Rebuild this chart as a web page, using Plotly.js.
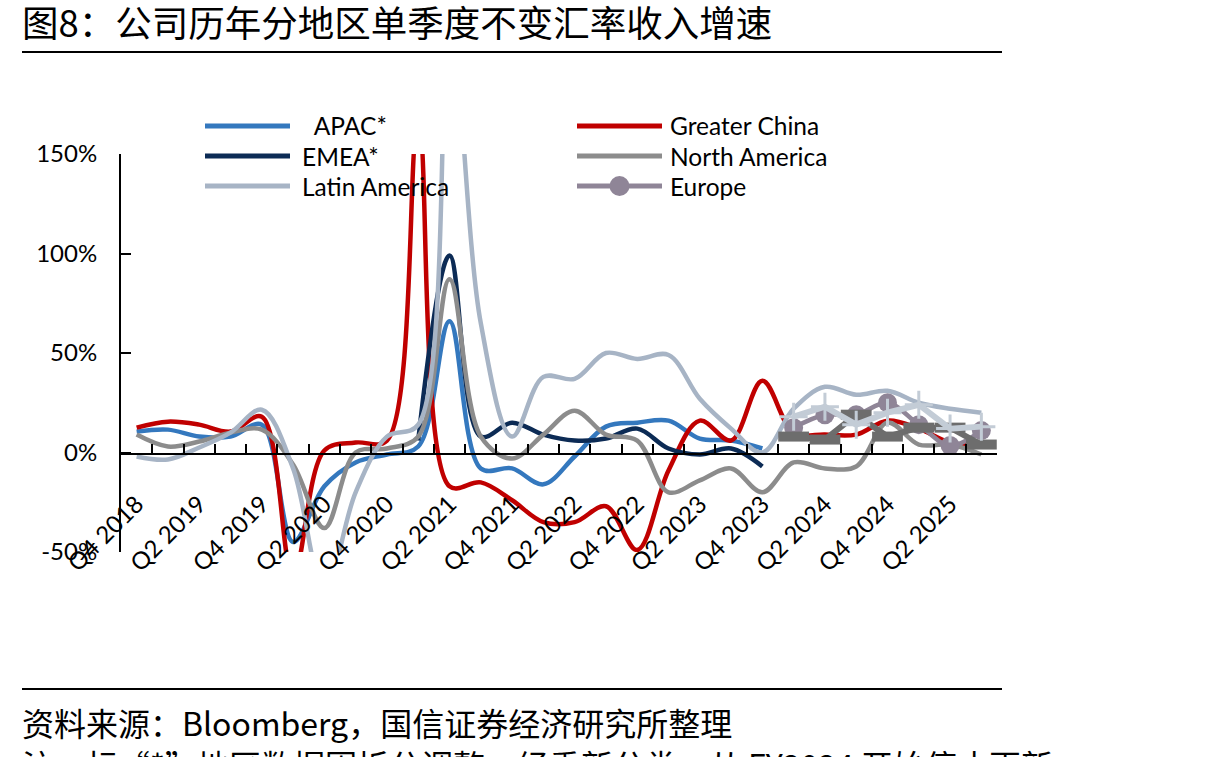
<!DOCTYPE html>
<html>
<head>
<meta charset="utf-8">
<script src="https://cdn.plot.ly/plotly-3.0.1.min.js"></script>
<style>
  html, body { margin: 0; padding: 0; background: #ffffff; }
  #chart { width: 1217px; height: 757px; }
</style>
</head>
<body>
<div id="chart"></div>
<script>
// Quarterly constant-currency revenue growth by region (%)
const categories = [
  'Q4 2018',
  'Q1 2019', 'Q2 2019', 'Q3 2019', 'Q4 2019',
  'Q1 2020', 'Q2 2020', 'Q3 2020', 'Q4 2020',
  'Q1 2021', 'Q2 2021', 'Q3 2021', 'Q4 2021',
  'Q1 2022', 'Q2 2022', 'Q3 2022', 'Q4 2022',
  'Q1 2023', 'Q2 2023', 'Q3 2023', 'Q4 2023',
  'Q1 2024', 'Q2 2024', 'Q3 2024', 'Q4 2024',
  'Q1 2025', 'Q2 2025', 'Q3 2025'
];

const tickLabels = [
  'Q4 2018', 'Q2 2019', 'Q4 2019', 'Q2 2020', 'Q4 2020', 'Q2 2021', 'Q4 2021',
  'Q2 2022', 'Q4 2022', 'Q2 2023', 'Q4 2023', 'Q2 2024', 'Q4 2024', 'Q2 2025'
];

const yTickVals = [-50, 0, 50, 100, 150];
const yTickText = ['-50%', '0%', '50%', '100%', '150%'];

const apac = [10.5, 11.5, 8, 8, 14, -45, -17, -5, -1, 3, 66, -8, -8, -16, -2, 13, 15, 16, 7, 6, 2,
  null, null, null, null, null, null, null];
const greaterChina = [12.5, 15.5, 14, 10.5, 18, -62, 1, 5, 6, 165, -17, -15, -24, -35, -35, -27, -49, -9, 16, 6, 36,
  10, 9, 9, 16, 12, 5, 3];
const emea = [null, null, null, null, null, null, null, null, null, 6, 99, 8, 15, 9, 6, 7, 12, 2, -1, 2, -7,
  null, null, null, null, null, null, null];
const northAmerica = [9, 3, 5.5, 10, 11.5, -6, -38, 0, 2, 8, 87, 8, -3, 9, 21, 9, 6, -20, -14, -8, -20,
  -5, -8, -7, 15, 4, 4, -1];
const latinAmerica = [-2, -3.5, 2.5, 10, 21.5, -8, -70, -20, 8, 14, 220, 65, 8, 38, 37, 50, 47, 49, 27, 12, 0,
  22, 33, 29, 31, 25, 22, 20];
const europe = [null, null, null, null, null, null, null, null, null, null, null, null, null, null, null, null,
  null, null, null, null, null, 12.5, 19, 19, 25, 14, 3.5, 11];
const japanKorea = [null, null, null, null, null, null, null, null, null, null, null, null, null, null, null, null,
  null, null, null, null, null, 18, 23, 14, 20, 24, 12, 13];
const emergingMarkets = [null, null, null, null, null, null, null, null, null, null, null, null, null, null, null, null,
  null, null, null, null, null, 8, 6.5, 19, 8, 12.5, 12.5, 4];

// Plot frame in page pixels
const W = 1217, H = 757;
const L = 121, R = 997, T = 154, B = 552;
const px = x => (x - L) / (R - L);
const py = y => (B - y) / (B - T);

const LATIN = 'Lato, "Open Sans", sans-serif';
const CJK = '"Noto Sans CJK SC", "Noto Sans", sans-serif';

const yMin = yTickVals[0], yMax = yTickVals[yTickVals.length - 1];
const zeroFrac = (0 - yMin) / (yMax - yMin);

function smoothLine(name, y, color) {
  return {
    type: 'scatter', mode: 'lines', name: name, x: categories, y: y,
    line: { color: color, width: 4.5, shape: 'spline', smoothing: 1 },
    connectgaps: false, hoverinfo: 'skip', showlegend: false
  };
}

const mainSeries = [
  smoothLine('APAC*', apac, '#3478be'),
  smoothLine('Greater China', greaterChina, '#c00000'),
  smoothLine('EMEA*', emea, '#0c2b55'),
  smoothLine('North America', northAmerica, '#8c8c8c'),
  smoothLine('Latin America', latinAmerica, '#a7b4c5')
];

const europeTrace = {
  type: 'scatter', mode: 'lines+markers', name: 'Europe', x: categories, y: europe,
  line: { color: '#8f8597', width: 4.5, shape: 'spline', smoothing: 1 },
  marker: { color: '#8f8597', size: 19, symbol: 'circle' },
  hoverinfo: 'skip', showlegend: false
};

const emergingTrace = {
  type: 'scatter', mode: 'lines+markers', name: 'Emerging Markets', x: categories, y: emergingMarkets,
  line: { color: '#6d6d6d', width: 6 },
  marker: { symbol: 'line-ew-open', size: 22, line: { color: '#8f8c9c', width: 10 } },
  hoverinfo: 'skip', showlegend: false
};

const japanKoreaTrace = {
  type: 'scatter', mode: 'lines+markers', name: 'Japan/South Korea', x: categories, y: japanKorea,
  line: { color: '#c3ccd6', width: 6 },
  marker: { symbol: 'cross-thin-open', size: 20, line: { color: '#c9d1da', width: 3 } },
  hoverinfo: 'skip', showlegend: false
};

// carriers for the category label axis and the zero-level axis
const labelAxisTrace = {
  type: 'scatter', mode: 'lines', x: categories, y: categories.map(() => null),
  xaxis: 'x2', yaxis: 'y', hoverinfo: 'skip', showlegend: false
};
const zeroAxisTrace = {
  type: 'scatter', mode: 'lines', x: categories, y: categories.map(() => null),
  xaxis: 'x3', yaxis: 'y3', hoverinfo: 'skip', showlegend: false
};

const traces = [...mainSeries, europeTrace, emergingTrace, japanKoreaTrace, labelAxisTrace, zeroAxisTrace];

// Legend: two columns, three rows
const legendColX = [[205, 290, 301], [577, 662, 669]];
const legendRowY = [126, 156, 186];
const legendEntries = [
  { trace: mainSeries[0], col: 0, row: 0, text: '\u00a0\u00a0APAC*' },
  { trace: mainSeries[1], col: 1, row: 0 },
  { trace: mainSeries[2], col: 0, row: 1 },
  { trace: mainSeries[3], col: 1, row: 1 },
  { trace: mainSeries[4], col: 0, row: 2 },
  { trace: europeTrace, col: 1, row: 2, dot: true }
];

const shapes = [];
const annotations = [];

legendEntries.forEach(e => {
  const [x0, x1, tx] = legendColX[e.col];
  const y = legendRowY[e.row];
  shapes.push({
    type: 'line', xref: 'paper', yref: 'paper',
    x0: px(x0), x1: px(x1), y0: py(y), y1: py(y),
    line: { color: e.trace.line.color, width: 5 }, layer: 'above'
  });
  if (e.dot) {
    shapes.push({
      type: 'circle', xref: 'paper', yref: 'paper',
      xsizemode: 'pixel', ysizemode: 'pixel',
      xanchor: px((x0 + x1) / 2), yanchor: py(y),
      x0: -10, x1: 10, y0: -10, y1: 10,
      fillcolor: e.trace.marker.color, line: { width: 0 }, layer: 'above'
    });
  }
  annotations.push({
    xref: 'paper', yref: 'paper', x: px(tx), y: py(y),
    xanchor: 'left', yanchor: 'middle', showarrow: false, borderpad: 0,
    text: e.text || e.trace.name,
    font: { family: LATIN, size: 24.5, color: '#000000' }
  });
});

// Title, rules and source notes
shapes.push(
  { type: 'line', xref: 'paper', yref: 'paper', x0: px(22), x1: px(1002), y0: py(52), y1: py(52),
    line: { color: '#000000', width: 2 } },
  { type: 'line', xref: 'paper', yref: 'paper', x0: px(22), x1: px(1002), y0: py(689), y1: py(689),
    line: { color: '#000000', width: 2 } }
);

annotations.push(
  { xref: 'paper', yref: 'paper', x: px(20), y: py(22), xanchor: 'left', yanchor: 'middle', showarrow: false,
    text: '图8：公司历年分地区单季度不变汇率收入增速',
    font: { family: CJK, size: 36.5, color: '#000000' } },
  { xref: 'paper', yref: 'paper', x: px(20), y: py(722), xanchor: 'left', yanchor: 'middle', showarrow: false,
    text: '资料来源：Bloomberg，国信证券经济研究所整理',
    font: { family: CJK, size: 32, color: '#000000' } },
  { xref: 'paper', yref: 'paper', x: px(20), y: py(764), xanchor: 'left', yanchor: 'middle', showarrow: false,
    text: '注：标“*”地区数据因拆分调整，经重新分类，从 FY2024 开始停止更新',
    font: { family: CJK, size: 32, color: '#000000' } }
);

const layout = {
  width: W, height: H,
  margin: { l: L, r: W - R, t: T, b: H - B, pad: 0 },
  paper_bgcolor: '#ffffff', plot_bgcolor: 'rgba(0,0,0,0)',
  showlegend: false, hovermode: false,
  font: { family: LATIN, size: 24, color: '#000000' },
  xaxis: {
    type: 'category', categoryorder: 'array', categoryarray: categories,
    range: [-0.5, categories.length - 0.5], anchor: 'y',
    showline: false, ticks: '', showticklabels: false,
    showgrid: false, zeroline: false, fixedrange: true
  },
  // rotated category labels
  xaxis2: {
    type: 'category', categoryorder: 'array', categoryarray: categories,
    overlaying: 'x', matches: 'x',
    anchor: 'free', position: 0.17,
    tickmode: 'array', tickvals: tickLabels, ticktext: tickLabels,
    tickangle: -45, ticks: '', showline: false, showgrid: false, zeroline: false,
    tickfont: { family: LATIN, size: 24, color: '#000000' }, fixedrange: true
  },
  // axis line at the zero level, ticks between categories
  xaxis3: {
    type: 'category', categoryorder: 'array', categoryarray: categories,
    matches: 'x', anchor: 'y3', side: 'bottom', domain: [0, 1],
    showline: true, linecolor: '#000000', linewidth: 2,
    ticks: 'inside', tickson: 'boundaries', ticklen: 9, tickwidth: 2, tickcolor: '#000000',
    showticklabels: false, showgrid: false, zeroline: false, fixedrange: true
  },
  yaxis3: {
    domain: [zeroFrac, zeroFrac + 0.1], anchor: 'x3', range: [0, 1],
    visible: false, fixedrange: true
  },
  yaxis: {
    range: [yMin, yMax], anchor: 'x',
    tickmode: 'array', tickvals: yTickVals, ticktext: yTickText,
    showline: true, linecolor: '#000000', linewidth: 2,
    ticks: 'inside', ticklen: 10, tickwidth: 2, tickcolor: '#000000',
    ticklabelstandoff: 17,
    tickfont: { family: LATIN, size: 24, color: '#000000' },
    showgrid: false, zeroline: false, fixedrange: true
  },
  shapes: shapes,
  annotations: annotations
};

Plotly.newPlot('chart', traces, layout, { displayModeBar: false, staticPlot: true });
</script>
</body>
</html>
